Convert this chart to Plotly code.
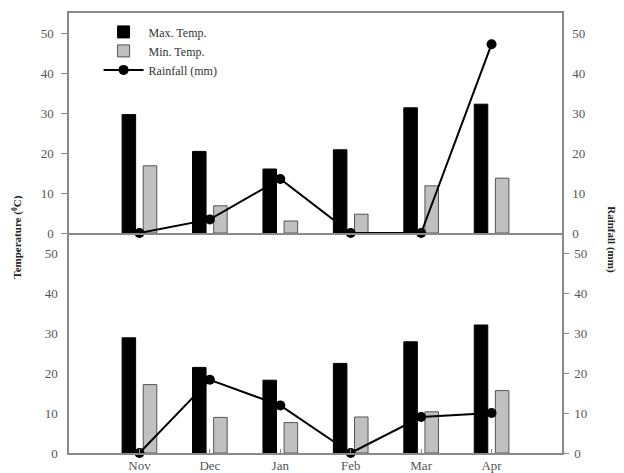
import plotly.graph_objects as go
from plotly.subplots import make_subplots

months = ["Nov", "Dec", "Jan", "Feb", "Mar", "Apr"]

# Top panel
max_top = [29.6, 20.4, 16.0, 20.8, 31.3, 32.2]
min_top = [16.8, 6.8, 3.0, 4.7, 11.8, 13.7]
rain_top = [0, 3.4, 13.5, 0, 0, 47.2]

# Bottom panel
max_bot = [28.8, 21.4, 18.2, 22.4, 27.8, 32.0]
min_bot = [17.1, 8.9, 7.6, 9.0, 10.3, 15.6]
rain_bot = [0, 18.3, 11.9, 0, 9.0, 10.0]

tick_vals = [0, 10, 20, 30, 40, 50]

FONT = "Liberation Serif"
AX = "#8a8a8a"
TXT = "#555555"

fig = make_subplots(rows=2, cols=1, shared_xaxes=False, vertical_spacing=0,
                    specs=[[{"secondary_y": True}], [{"secondary_y": True}]])

for row, mx, mn, rn, show in [(1, max_top, min_top, rain_top, True),
                              (2, max_bot, min_bot, rain_bot, False)]:
    fig.add_trace(go.Bar(x=months, y=mx, name="Max. Temp.", marker=dict(color="black", line=dict(color="black", width=1)),
                         showlegend=show, legendgroup="max"), row=row, col=1, secondary_y=False)
    fig.add_trace(go.Bar(x=months, y=mn, name="Min. Temp.", marker=dict(color="#c0c0c0", line=dict(color="#555555", width=1)),
                         showlegend=show, legendgroup="min"), row=row, col=1, secondary_y=False)
    fig.add_trace(go.Scatter(x=months, y=rn, name="Rainfall (mm)", mode="lines+markers",
                             line=dict(color="black", width=2), marker=dict(color="black", size=10),
                             showlegend=show, legendgroup="rain", cliponaxis=False),
                  row=row, col=1, secondary_y=True)

fig.update_layout(
    width=616, height=465,
    margin=dict(l=61, r=62, t=5, b=20, autoexpand=False),
    paper_bgcolor="white", plot_bgcolor="white",
    barmode="group", bargap=0.4, bargroupgap=0.36,
    font=dict(family=FONT, size=13, color=TXT),
    legend=dict(x=0.06, y=0.99, xanchor="left", yanchor="top", bgcolor="rgba(0,0,0,0)",
                font=dict(family=FONT, size=12, color="#333333"), tracegroupgap=0, itemwidth=40),
    showlegend=True,
)

common_x = dict(type="category", range=[-1, 6], domain=[0, 1], showgrid=False, zeroline=False,
                showline=True, linecolor=AX, linewidth=1.5, automargin=False)
fig.update_xaxes(row=1, col=1, mirror=True, ticks="", showticklabels=False, **common_x)
fig.update_xaxes(row=2, col=1, mirror=False, ticks="inside", ticklen=4, tickcolor=AX,
                 tickfont=dict(family=FONT, size=13, color=TXT), **common_x)

common_y = dict(range=[0, 55], tickvals=tick_vals, showgrid=False, zeroline=False,
                showline=True, linecolor=AX, linewidth=1.5, automargin=False,
                tickfont=dict(family=FONT, size=13, color=TXT))
fig.update_yaxes(row=1, col=1, secondary_y=False, ticks="outside", ticklen=6, tickcolor=AX,
                 ticklabelstandoff=5, **common_y)
fig.update_yaxes(row=2, col=1, secondary_y=False, ticks="", ticklabelstandoff=7, **common_y)
fig.update_yaxes(row=1, col=1, secondary_y=True, ticks="", ticklabelstandoff=6, **common_y)
fig.update_yaxes(row=2, col=1, secondary_y=True, ticks="outside", ticklen=5, tickcolor=AX,
                 ticklabelstandoff=3, **common_y)

fig.add_annotation(text="<b>Temperature (<sup>0</sup>C)</b>", textangle=-90, xref="paper", yref="paper",
                   x=-0.105, y=0.49, xanchor="center", yanchor="middle", showarrow=False,
                   font=dict(family=FONT, size=11, color="#222222"))
fig.add_annotation(text="<b>Rainfall (mm)</b>", textangle=90, xref="paper", yref="paper",
                   x=1.101, y=0.484, xanchor="center", yanchor="middle", showarrow=False,
                   font=dict(family=FONT, size=11, color="#222222"))

fig.write_html("out.html")
